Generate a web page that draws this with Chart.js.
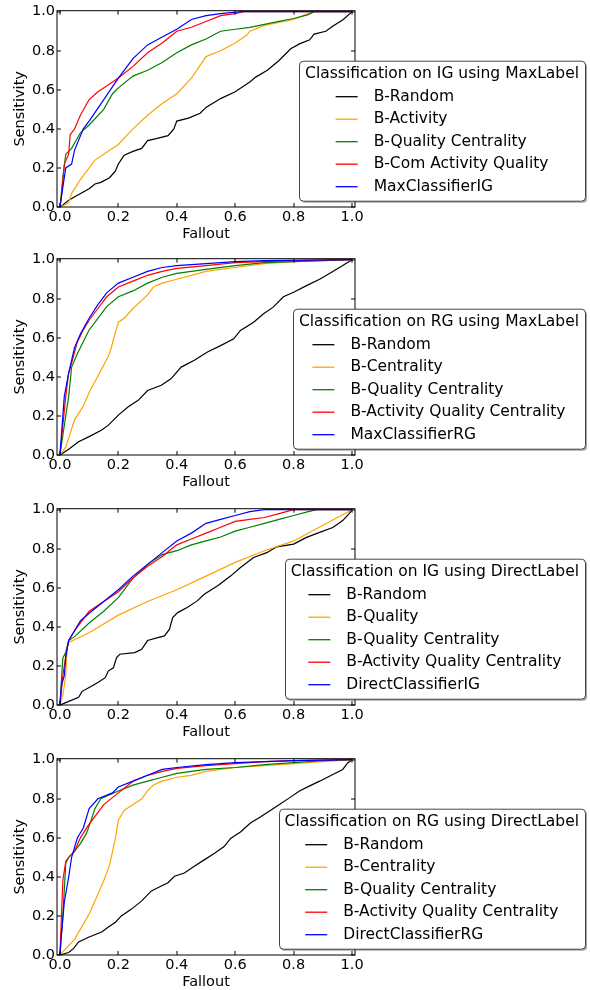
<!DOCTYPE html>
<html><head><meta charset="utf-8">
<script src="https://cdn.jsdelivr.net/npm/chart.js@4.4.1/dist/chart.umd.min.js"></script>
<style>
html,body{margin:0;padding:0;background:#fff;width:590px;height:990px;overflow:hidden}
.c{position:absolute;left:0;width:590px;height:247px}
</style></head><body>
<div class="c" style="top:0px"><canvas id="c0" width="590" height="247"></canvas></div>
<div class="c" style="top:248px"><canvas id="c1" width="590" height="247"></canvas></div>
<div class="c" style="top:498px"><canvas id="c2" width="590" height="247"></canvas></div>
<div class="c" style="top:748px"><canvas id="c3" width="590" height="247"></canvas></div>
<script>
// ---------- tick labels ----------
const tickValues = [0, 0.2, 0.4, 0.6, 0.8, 1.0];
const tickLabels = ['0.0', '0.2', '0.4', '0.6', '0.8', '1.0'];
const xTitle = 'Fallout';
const yTitle = 'Sensitivity';

// ---------- panel 1: IG / MaxLabel ----------
const title1 = 'Classification on IG using MaxLabel';
const names1 = ['B-Random', 'B-Activity', 'B-Quality Centrality', 'B-Com Activity Quality', 'MaxClassifierIG'];
const p1Random = [[0,0],[0.01,0.01],[0.03,0.035],[0.06,0.06],[0.1,0.093],[0.12,0.118],[0.14,0.126],[0.17,0.15],[0.19,0.185],[0.2,0.22],[0.22,0.265],[0.25,0.285],[0.28,0.30],[0.3,0.34],[0.33,0.35],[0.37,0.365],[0.39,0.40],[0.4,0.44],[0.44,0.455],[0.48,0.48],[0.5,0.51],[0.55,0.555],[0.6,0.59],[0.65,0.64],[0.67,0.665],[0.71,0.70],[0.75,0.75],[0.79,0.81],[0.82,0.835],[0.855,0.856],[0.87,0.885],[0.91,0.90],[0.935,0.927],[0.97,0.96],[1,1]];
const p1Activity = [[0,0],[0.03,0.02],[0.04,0.07],[0.07,0.14],[0.1,0.20],[0.12,0.24],[0.16,0.28],[0.2,0.32],[0.25,0.40],[0.3,0.47],[0.35,0.53],[0.4,0.58],[0.45,0.66],[0.5,0.77],[0.55,0.80],[0.6,0.84],[0.64,0.88],[0.65,0.90],[0.7,0.93],[0.8,0.96],[0.85,0.99],[0.87,1.0],[1,1]];
const p1QualCent = [[0,0],[0.01,0.15],[0.02,0.27],[0.04,0.30],[0.07,0.38],[0.1,0.42],[0.15,0.50],[0.18,0.58],[0.2,0.61],[0.25,0.67],[0.3,0.70],[0.35,0.74],[0.4,0.79],[0.45,0.83],[0.5,0.86],[0.55,0.90],[0.6,0.91],[0.65,0.92],[0.7,0.935],[0.75,0.95],[0.8,0.965],[0.85,0.985],[0.87,1.0],[1,1]];
const p1ComActQual = [[0,0],[0.005,0.05],[0.015,0.22],[0.03,0.27],[0.035,0.37],[0.05,0.40],[0.07,0.47],[0.1,0.55],[0.13,0.59],[0.16,0.62],[0.2,0.66],[0.25,0.72],[0.3,0.79],[0.35,0.84],[0.4,0.90],[0.45,0.92],[0.5,0.95],[0.55,0.98],[0.6,0.99],[0.63,1.0],[1,1]];
const p1MaxClf = [[0,0],[0.01,0.1],[0.02,0.2],[0.04,0.22],[0.05,0.29],[0.08,0.40],[0.1,0.44],[0.15,0.55],[0.2,0.66],[0.25,0.76],[0.3,0.83],[0.35,0.87],[0.4,0.91],[0.45,0.96],[0.5,0.98],[0.55,0.99],[0.62,1.0],[1,1]];

// ---------- panel 2: RG / MaxLabel ----------
const title2 = 'Classification on RG using MaxLabel';
const names2 = ['B-Random', 'B-Centrality', 'B-Quality Centrality', 'B-Activity Quality Centrality', 'MaxClassifierRG'];
const p2Random = [[0,0],[0.03,0.03],[0.064,0.068],[0.1,0.094],[0.143,0.128],[0.166,0.153],[0.2,0.204],[0.234,0.247],[0.268,0.28],[0.3,0.33],[0.347,0.357],[0.38,0.39],[0.415,0.45],[0.46,0.485],[0.505,0.527],[0.55,0.56],[0.595,0.595],[0.618,0.638],[0.663,0.68],[0.697,0.723],[0.73,0.757],[0.765,0.81],[0.8,0.833],[0.844,0.867],[0.889,0.90],[0.934,0.94],[0.968,0.97],[1,1]];
const p2Centrality = [[0,0],[0.02,0.04],[0.05,0.18],[0.08,0.25],[0.1,0.32],[0.15,0.46],[0.17,0.52],[0.2,0.68],[0.22,0.70],[0.25,0.75],[0.3,0.82],[0.32,0.86],[0.35,0.88],[0.4,0.90],[0.45,0.92],[0.5,0.94],[0.6,0.96],[0.7,0.98],[0.8,0.99],[1,1]];
const p2QualCent = [[0,0],[0.01,0.1],[0.03,0.3],[0.04,0.45],[0.06,0.52],[0.08,0.58],[0.1,0.64],[0.13,0.70],[0.16,0.76],[0.2,0.81],[0.25,0.84],[0.3,0.88],[0.35,0.91],[0.4,0.93],[0.5,0.95],[0.6,0.97],[0.7,0.985],[0.8,0.99],[1,1]];
const p2ActQualCent = [[0,0],[0.01,0.15],[0.02,0.3],[0.03,0.42],[0.04,0.47],[0.06,0.58],[0.08,0.64],[0.1,0.69],[0.13,0.75],[0.16,0.81],[0.2,0.86],[0.25,0.89],[0.3,0.92],[0.35,0.94],[0.4,0.955],[0.5,0.97],[0.6,0.985],[0.7,0.99],[0.8,0.995],[1,1]];
const p2MaxClf = [[0,0],[0.005,0.1],[0.015,0.3],[0.03,0.42],[0.05,0.55],[0.07,0.62],[0.1,0.70],[0.13,0.77],[0.16,0.83],[0.2,0.88],[0.25,0.91],[0.3,0.94],[0.35,0.96],[0.4,0.97],[0.5,0.98],[0.6,0.99],[0.7,0.995],[1,1]];

// ---------- panel 3: IG / DirectLabel ----------
const title3 = 'Classification on IG using DirectLabel';
const names3 = ['B-Random', 'B-Quality', 'B-Quality Centrality', 'B-Activity Quality Centrality', 'DirectClassifierIG'];
const p3Random = [[0,0],[0.02,0.012],[0.064,0.04],[0.076,0.07],[0.1,0.09],[0.13,0.115],[0.155,0.14],[0.166,0.175],[0.183,0.19],[0.194,0.243],[0.205,0.26],[0.256,0.268],[0.28,0.285],[0.3,0.33],[0.335,0.345],[0.358,0.354],[0.375,0.388],[0.386,0.448],[0.403,0.473],[0.437,0.50],[0.47,0.533],[0.494,0.567],[0.54,0.61],[0.584,0.66],[0.618,0.704],[0.663,0.755],[0.708,0.78],[0.742,0.81],[0.8,0.824],[0.844,0.858],[0.889,0.884],[0.934,0.909],[0.968,0.944],[0.99,0.98],[1,1]];
const p3Quality = [[0,0],[0.01,0.05],[0.02,0.15],[0.025,0.30],[0.03,0.32],[0.1,0.37],[0.2,0.46],[0.3,0.53],[0.4,0.59],[0.5,0.66],[0.6,0.73],[0.7,0.79],[0.8,0.84],[0.9,0.92],[1,1]];
const p3QualCent = [[0,0],[0.01,0.24],[0.02,0.27],[0.03,0.33],[0.05,0.35],[0.1,0.42],[0.15,0.48],[0.2,0.55],[0.25,0.65],[0.3,0.72],[0.35,0.77],[0.4,0.79],[0.45,0.82],[0.5,0.84],[0.55,0.86],[0.6,0.89],[0.65,0.91],[0.7,0.93],[0.75,0.95],[0.8,0.97],[0.85,0.99],[0.88,1.0],[1,1]];
const p3ActQualCent = [[0,0],[0.01,0.15],[0.02,0.25],[0.03,0.33],[0.05,0.38],[0.07,0.42],[0.1,0.48],[0.15,0.53],[0.2,0.58],[0.25,0.65],[0.3,0.71],[0.35,0.76],[0.4,0.82],[0.45,0.85],[0.5,0.88],[0.55,0.91],[0.6,0.94],[0.65,0.95],[0.7,0.96],[0.75,0.98],[0.8,1.0],[1,1]];
const p3DirectClf = [[0,0],[0.005,0.1],[0.015,0.15],[0.02,0.25],[0.03,0.33],[0.05,0.38],[0.07,0.43],[0.1,0.47],[0.15,0.53],[0.2,0.59],[0.25,0.66],[0.3,0.72],[0.35,0.78],[0.4,0.84],[0.45,0.88],[0.5,0.93],[0.55,0.95],[0.6,0.97],[0.65,0.99],[0.7,1.0],[1,1]];

// ---------- panel 4: RG / DirectLabel ----------
const title4 = 'Classification on RG using DirectLabel';
const names4 = ['B-Random', 'B-Centrality', 'B-Quality Centrality', 'B-Activity Quality Centrality', 'DirectClassifierRG'];
const p4Random = [[0,0],[0.03,0.013],[0.047,0.034],[0.064,0.067],[0.1,0.092],[0.143,0.118],[0.166,0.143],[0.19,0.168],[0.21,0.20],[0.245,0.235],[0.28,0.277],[0.313,0.328],[0.347,0.353],[0.37,0.37],[0.392,0.403],[0.426,0.42],[0.46,0.454],[0.494,0.487],[0.528,0.52],[0.562,0.555],[0.584,0.597],[0.618,0.63],[0.652,0.676],[0.686,0.706],[0.72,0.74],[0.754,0.773],[0.788,0.807],[0.82,0.84],[0.855,0.866],[0.889,0.89],[0.934,0.924],[0.968,0.95],[0.985,0.983],[1,1]];
const p4Centrality = [[0,0],[0.05,0.08],[0.1,0.21],[0.15,0.38],[0.17,0.46],[0.19,0.60],[0.2,0.69],[0.22,0.74],[0.25,0.77],[0.28,0.80],[0.3,0.84],[0.32,0.87],[0.35,0.89],[0.4,0.91],[0.45,0.92],[0.5,0.94],[0.6,0.96],[0.7,0.97],[0.8,0.98],[0.9,0.99],[1,1]];
const p4QualCent = [[0,0],[0.01,0.2],[0.02,0.47],[0.03,0.50],[0.05,0.53],[0.07,0.57],[0.09,0.62],[0.1,0.66],[0.12,0.75],[0.14,0.80],[0.2,0.84],[0.25,0.87],[0.3,0.89],[0.35,0.91],[0.4,0.93],[0.5,0.95],[0.6,0.96],[0.7,0.975],[0.8,0.985],[0.9,0.995],[1,1]];
const p4ActQualCent = [[0,0],[0.01,0.38],[0.02,0.48],[0.03,0.50],[0.05,0.53],[0.07,0.60],[0.1,0.67],[0.12,0.71],[0.15,0.77],[0.2,0.83],[0.25,0.89],[0.3,0.92],[0.35,0.94],[0.4,0.955],[0.5,0.97],[0.6,0.98],[0.7,0.99],[0.8,0.995],[1,1]];
const p4DirectClf = [[0,0],[0.005,0.1],[0.015,0.27],[0.03,0.40],[0.04,0.50],[0.06,0.60],[0.08,0.65],[0.1,0.75],[0.13,0.80],[0.18,0.83],[0.2,0.86],[0.25,0.89],[0.3,0.92],[0.35,0.95],[0.4,0.96],[0.5,0.975],[0.6,0.985],[0.7,0.99],[0.8,0.995],[1,1]];

const seriesColors = ['#000000', '#FFA500', '#008000', '#FF0000', '#0000FF'];

const panels = [
  {title: title1, names: names1, series: [p1Random, p1Activity, p1QualCent, p1ComActQual, p1MaxClf]},
  {title: title2, names: names2, series: [p2Random, p2Centrality, p2QualCent, p2ActQualCent, p2MaxClf]},
  {title: title3, names: names3, series: [p3Random, p3Quality, p3QualCent, p3ActQualCent, p3DirectClf]},
  {title: title4, names: names4, series: [p4Random, p4Centrality, p4QualCent, p4ActQualCent, p4DirectClf]}
];

const FONT = '"DejaVu Sans", sans-serif';

// frame with inward ticks on all four sides (matplotlib classic look)
const framePlugin = {
  id: 'mplFrame',
  afterDatasetsDraw(chart) {
    const {ctx, chartArea: a, scales} = chart;
    ctx.save();
    ctx.strokeStyle = '#000';
    ctx.lineWidth = 1;
    ctx.strokeRect(a.left, a.top, a.right - a.left, a.bottom - a.top);
    const tl = 4;
    ctx.beginPath();
    tickValues.forEach(v => {
      const x = Math.round(scales.x.getPixelForValue(v));
      ctx.moveTo(x, a.bottom); ctx.lineTo(x, a.bottom - tl);
      ctx.moveTo(x, a.top); ctx.lineTo(x, a.top + tl);
      const y = Math.round(scales.y.getPixelForValue(v));
      ctx.moveTo(a.left, y); ctx.lineTo(a.left + tl, y);
      ctx.moveTo(a.right, y); ctx.lineTo(a.right - tl, y);
    });
    ctx.stroke();
    ctx.restore();
  }
};

// boxed legend with a title, drawn over the plot like matplotlib's
const legendPlugin = {
  id: 'mplLegend',
  afterDraw(chart, args, opts) {
    const {ctx, chartArea: a} = chart;
    const ds = chart.data.datasets;
    ctx.save();
    ctx.font = '15.5px ' + FONT;
    const titleW = ctx.measureText(opts.title).width;
    let maxLW = 0;
    ds.forEach(d => { maxLW = Math.max(maxLW, ctx.measureText(d.label).width); });
    const handle = 22, gap = 16, pad = 6;
    const blockW = handle + gap + maxLW;
    const boxW = Math.max(titleW, blockW) + 2 * pad;
    const right = a.right + 230;
    const left = right - boxW;
    const top = a.top + 50;
    const h = 140;
    // shadow
    ctx.fillStyle = 'rgba(0,0,0,0.35)';
    ctx.beginPath(); ctx.roundRect(left + 2, top + 2, boxW, h, 4); ctx.fill();
    // box
    ctx.fillStyle = '#fff';
    ctx.strokeStyle = '#444';
    ctx.lineWidth = 1;
    ctx.beginPath(); ctx.roundRect(Math.round(left) + 0.5, top + 0.5, Math.round(boxW), h, 4); ctx.fill(); ctx.stroke();
    // title
    ctx.fillStyle = '#000';
    ctx.textAlign = 'center';
    ctx.textBaseline = 'middle';
    ctx.fillText(opts.title, left + boxW / 2, top + 13);
    const bx = left + (boxW - blockW) / 2;
    ctx.textAlign = 'left';
    ds.forEach((d, i) => {
      const y = top + 36 + i * 22.5;
      ctx.strokeStyle = d.borderColor;
      ctx.lineWidth = 1.3;
      ctx.beginPath(); ctx.moveTo(bx, y); ctx.lineTo(bx + handle, y); ctx.stroke();
      ctx.fillStyle = '#000';
      ctx.fillText(d.label, bx + handle + gap, y);
    });
    ctx.restore();
  }
};

panels.forEach((p, idx) => {
  const datasets = p.series.map((s, i) => ({
    label: p.names[i],
    data: s.map(pt => ({x: pt[0], y: pt[1]})),
    borderColor: seriesColors[i],
    backgroundColor: seriesColors[i],
    borderWidth: 1.2,
    pointRadius: 0,
    tension: 0,
    fill: false,
    showLine: true,
    order: p.series.length - i
  }));
  new Chart(document.getElementById('c' + idx), {
    type: 'scatter',
    data: {datasets},
    options: {
      responsive: false,
      animation: false,
      devicePixelRatio: 1,
      layout: {padding: {top: 9, right: 235, left: 0, bottom: 0}},
      plugins: {
        legend: {display: false},
        tooltip: {enabled: false},
        mplLegend: {title: p.title}
      },
      scales: {
        x: {
          type: 'linear', position: 'bottom', min: -0.01, max: 1.01,
          afterBuildTicks: s => { s.ticks = tickValues.map(v => ({value: v})); },
          afterFit: s => { s.height = 40; },
          grid: {display: false, drawTicks: false},
          border: {display: false},
          ticks: {callback: (v, i) => tickLabels[i], color: '#000', font: {family: FONT, size: 14.5}, padding: 2, maxRotation: 0, autoSkip: false},
          title: {display: true, text: xTitle, color: '#000', font: {family: FONT, size: 14.5}, padding: {top: 0, bottom: 3.8}}
        },
        y: {
          type: 'linear', position: 'left', min: 0, max: 1.005,
          afterBuildTicks: s => { s.ticks = tickValues.map(v => ({value: v})); },
          afterFit: s => { s.width = 57; },
          grid: {display: false, drawTicks: false},
          border: {display: false},
          ticks: {callback: (v, i) => tickLabels[i], color: '#000', font: {family: FONT, size: 14.5}, padding: 2, autoSkip: false},
          title: {display: true, text: yTitle, color: '#000', font: {family: FONT, size: 14.5}, padding: {top: 12, bottom: 0}}
        }
      }
    },
    plugins: [framePlugin, legendPlugin]
  });
});
</script>
</body></html>
